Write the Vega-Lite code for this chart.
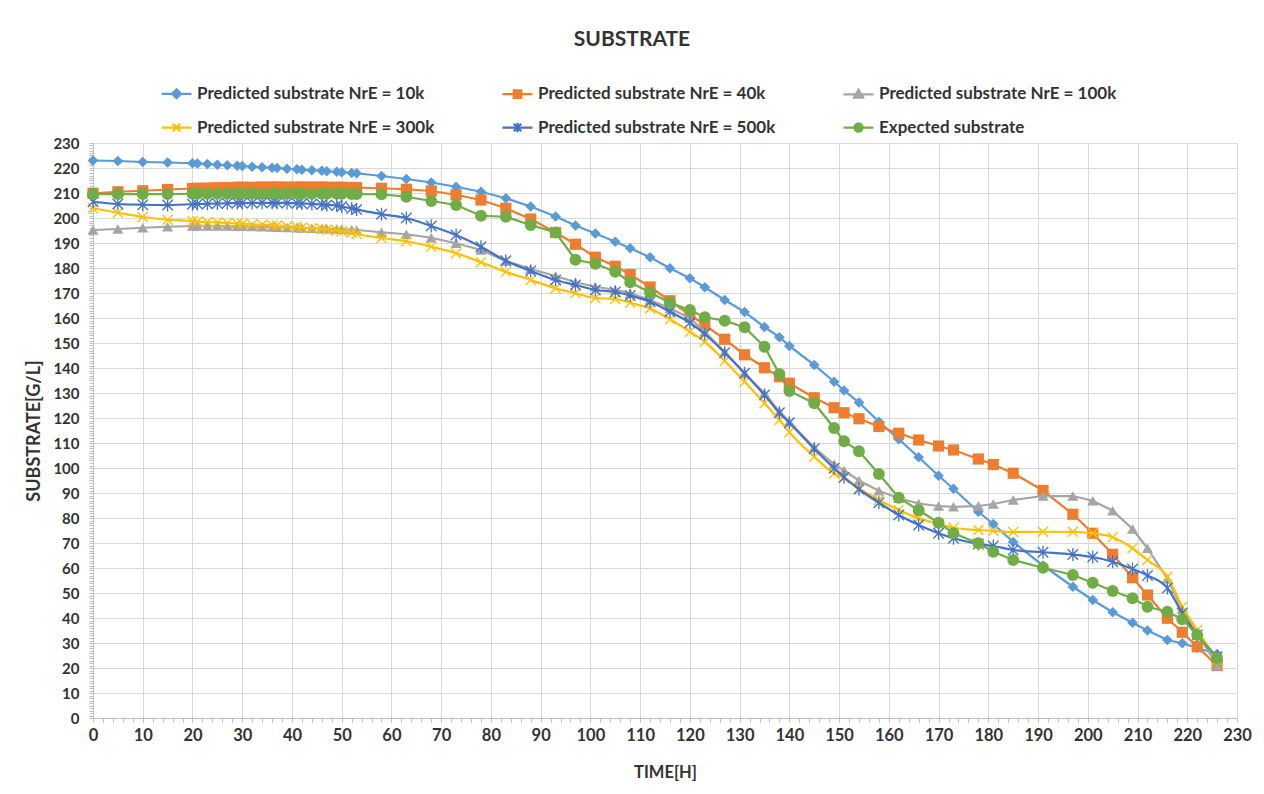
{
  "$schema": "https://vega.github.io/schema/vega-lite/v6.json",
  "width": 1144,
  "height": 575,
  "autosize": {"type": "none"},
  "padding": {"left": 93, "top": 143, "right": 27, "bottom": 76},
  "background": "white",
  "config": {
    "view": {"stroke": null},
    "font": "Lato",
    "axis": {"domainColor": "#bfbfbf", "tickColor": "#bfbfbf", "gridColor": "#d9d9d9", "gridWidth": 1, "labelFont": "Lato", "labelFontWeight": "bold", "labelColor": "#333333", "titleFont": "Lato", "titleFontWeight": "bold", "titleColor": "#333333", "labelOverlap": false, "labelBound": false, "labelFlush": false}
  },
  "title": {"text": "SUBSTRATE", "font": "Lato", "fontSize": 21, "fontWeight": "bold", "color": "#333333", "anchor": "middle", "frame": "group", "dx": -33, "offset": 16, "baseline": "middle"},
  "datasets": {
    "k10": [{"t":0,"v":223},{"t":5,"v":222.8},{"t":10,"v":222.4},{"t":15,"v":222.2},{"t":20,"v":221.9},{"t":21,"v":221.8},{"t":23,"v":221.6},{"t":25,"v":221.3},{"t":27,"v":221.1},{"t":29,"v":220.9},{"t":30,"v":220.8},{"t":32,"v":220.5},{"t":34,"v":220.3},{"t":36,"v":220.1},{"t":37,"v":220},{"t":39,"v":219.7},{"t":41,"v":219.5},{"t":42,"v":219.3},{"t":44,"v":219.1},{"t":46,"v":218.9},{"t":47,"v":218.7},{"t":49,"v":218.5},{"t":50,"v":218.3},{"t":52,"v":218},{"t":53,"v":217.9},{"t":58,"v":216.8},{"t":63,"v":215.6},{"t":68,"v":214.2},{"t":73,"v":212.5},{"t":78,"v":210.5},{"t":83,"v":207.9},{"t":88,"v":204.6},{"t":93,"v":200.6},{"t":97,"v":197},{"t":101,"v":193.8},{"t":105,"v":190.5},{"t":108,"v":187.9},{"t":112,"v":184.3},{"t":116,"v":179.9},{"t":120,"v":175.9},{"t":123,"v":172.3},{"t":127,"v":167.2},{"t":131,"v":162.4},{"t":135,"v":156.4},{"t":138,"v":152.3},{"t":140,"v":148.8},{"t":145,"v":141.2},{"t":149,"v":134.5},{"t":151,"v":131},{"t":154,"v":126.2},{"t":158,"v":118.5},{"t":162,"v":111.5},{"t":166,"v":104.3},{"t":170,"v":96.9},{"t":173,"v":91.7},{"t":178,"v":82.5},{"t":181,"v":77.6},{"t":185,"v":70.4},{"t":191,"v":61},{"t":197,"v":52.5},{"t":201,"v":47.2},{"t":205,"v":42.3},{"t":209,"v":38.1},{"t":212,"v":35},{"t":216,"v":31.2},{"t":219,"v":29.9},{"t":222,"v":28},{"t":226,"v":25.6}],
    "k40": [{"t":0,"v":209.9},{"t":5,"v":210.5},{"t":10,"v":210.9},{"t":15,"v":211.4},{"t":20,"v":211.8},{"t":21,"v":211.9},{"t":23,"v":212},{"t":25,"v":212.1},{"t":27,"v":212.2},{"t":29,"v":212.3},{"t":30,"v":212.3},{"t":32,"v":212.3},{"t":34,"v":212.4},{"t":36,"v":212.4},{"t":37,"v":212.4},{"t":39,"v":212.4},{"t":41,"v":212.4},{"t":42,"v":212.4},{"t":44,"v":212.4},{"t":46,"v":212.4},{"t":47,"v":212.3},{"t":49,"v":212.3},{"t":50,"v":212.3},{"t":52,"v":212.2},{"t":53,"v":212.2},{"t":58,"v":211.9},{"t":63,"v":211.5},{"t":68,"v":210.8},{"t":73,"v":209.3},{"t":78,"v":207.2},{"t":83,"v":203.9},{"t":88,"v":199.6},{"t":93,"v":194.2},{"t":97,"v":189.5},{"t":101,"v":184.3},{"t":105,"v":180.7},{"t":108,"v":177.4},{"t":112,"v":172.4},{"t":116,"v":166.9},{"t":120,"v":161.3},{"t":123,"v":157.2},{"t":127,"v":151.5},{"t":131,"v":145.3},{"t":135,"v":140.1},{"t":138,"v":136.5},{"t":140,"v":133.9},{"t":145,"v":128.1},{"t":149,"v":124.1},{"t":151,"v":122.1},{"t":154,"v":119.7},{"t":158,"v":116.6},{"t":162,"v":113.9},{"t":166,"v":111.2},{"t":170,"v":108.8},{"t":173,"v":107.2},{"t":178,"v":103.6},{"t":181,"v":101.4},{"t":185,"v":97.9},{"t":191,"v":91},{"t":197,"v":81.5},{"t":201,"v":73.9},{"t":205,"v":65.5},{"t":209,"v":56.1},{"t":212,"v":49.2},{"t":216,"v":39.9},{"t":219,"v":34.3},{"t":222,"v":28.5},{"t":226,"v":21}],
    "k100": [{"t":0,"v":195.2},{"t":5,"v":195.6},{"t":10,"v":196.1},{"t":15,"v":196.5},{"t":20,"v":196.8},{"t":21,"v":196.8},{"t":23,"v":196.8},{"t":25,"v":196.8},{"t":27,"v":196.8},{"t":29,"v":196.7},{"t":30,"v":196.7},{"t":32,"v":196.6},{"t":34,"v":196.5},{"t":36,"v":196.4},{"t":37,"v":196.3},{"t":39,"v":196.2},{"t":41,"v":196.1},{"t":42,"v":196},{"t":44,"v":195.9},{"t":46,"v":195.8},{"t":47,"v":195.7},{"t":49,"v":195.6},{"t":50,"v":195.5},{"t":52,"v":195.3},{"t":53,"v":195.2},{"t":58,"v":194.3},{"t":63,"v":193.5},{"t":68,"v":192.1},{"t":73,"v":189.9},{"t":78,"v":187.2},{"t":83,"v":182.8},{"t":88,"v":179.6},{"t":93,"v":176.8},{"t":97,"v":174.3},{"t":101,"v":172.5},{"t":105,"v":171.3},{"t":108,"v":169.9},{"t":112,"v":167.2},{"t":116,"v":163.9},{"t":120,"v":159.9},{"t":123,"v":154.5},{"t":127,"v":146.5},{"t":131,"v":137.9},{"t":135,"v":129.9},{"t":138,"v":122.5},{"t":140,"v":118.5},{"t":145,"v":108.2},{"t":149,"v":101.5},{"t":151,"v":99},{"t":154,"v":95},{"t":158,"v":90.9},{"t":162,"v":87.9},{"t":166,"v":85.8},{"t":170,"v":84.8},{"t":173,"v":84.5},{"t":178,"v":84.8},{"t":181,"v":85.6},{"t":185,"v":87.2},{"t":191,"v":88.8},{"t":197,"v":88.8},{"t":201,"v":86.9},{"t":205,"v":82.9},{"t":209,"v":75.6},{"t":212,"v":67.9},{"t":216,"v":55.7},{"t":219,"v":43.5},{"t":222,"v":34},{"t":226,"v":21}],
    "k300": [{"t":0,"v":203.9},{"t":5,"v":202.1},{"t":10,"v":200.4},{"t":15,"v":199.3},{"t":20,"v":198.8},{"t":21,"v":198.6},{"t":23,"v":198.4},{"t":25,"v":198.2},{"t":27,"v":198},{"t":29,"v":197.8},{"t":30,"v":197.7},{"t":32,"v":197.5},{"t":34,"v":197.3},{"t":36,"v":197.1},{"t":37,"v":197},{"t":39,"v":196.7},{"t":41,"v":196.4},{"t":42,"v":196.2},{"t":44,"v":195.9},{"t":46,"v":195.6},{"t":47,"v":195.4},{"t":49,"v":195},{"t":50,"v":194.7},{"t":52,"v":194.1},{"t":53,"v":193.6},{"t":58,"v":192},{"t":63,"v":190.7},{"t":68,"v":188.5},{"t":73,"v":185.9},{"t":78,"v":182.3},{"t":83,"v":178.5},{"t":88,"v":175.2},{"t":93,"v":171.9},{"t":97,"v":169.9},{"t":101,"v":168},{"t":105,"v":167.6},{"t":108,"v":166.1},{"t":112,"v":163.8},{"t":116,"v":159.5},{"t":120,"v":154.5},{"t":123,"v":150.5},{"t":127,"v":142.8},{"t":131,"v":134.5},{"t":135,"v":125.9},{"t":138,"v":119.2},{"t":140,"v":114.3},{"t":145,"v":104.5},{"t":149,"v":97.8},{"t":151,"v":96},{"t":154,"v":91.9},{"t":158,"v":87.2},{"t":162,"v":83.2},{"t":166,"v":79.9},{"t":170,"v":77.6},{"t":173,"v":76.1},{"t":178,"v":75.2},{"t":181,"v":74.8},{"t":185,"v":74.4},{"t":191,"v":74.5},{"t":197,"v":74.5},{"t":201,"v":73.9},{"t":205,"v":72.3},{"t":209,"v":67.9},{"t":212,"v":63.2},{"t":216,"v":56.5},{"t":219,"v":44.5},{"t":222,"v":35.2},{"t":226,"v":23.2}],
    "k500": [{"t":0,"v":206.5},{"t":5,"v":205.6},{"t":10,"v":205.3},{"t":15,"v":205.2},{"t":20,"v":205.5},{"t":21,"v":205.6},{"t":23,"v":205.7},{"t":25,"v":205.8},{"t":27,"v":205.9},{"t":29,"v":206},{"t":30,"v":206},{"t":32,"v":206},{"t":34,"v":206.1},{"t":36,"v":206.1},{"t":37,"v":206.1},{"t":39,"v":206},{"t":41,"v":205.9},{"t":42,"v":205.8},{"t":44,"v":205.6},{"t":46,"v":205.4},{"t":47,"v":205.2},{"t":49,"v":205},{"t":50,"v":204.6},{"t":52,"v":203.8},{"t":53,"v":203.4},{"t":58,"v":201.5},{"t":63,"v":200},{"t":68,"v":196.8},{"t":73,"v":193.2},{"t":78,"v":188.5},{"t":83,"v":182.9},{"t":88,"v":178.8},{"t":93,"v":175.2},{"t":97,"v":173.2},{"t":101,"v":171.2},{"t":105,"v":170.4},{"t":108,"v":169},{"t":112,"v":166.5},{"t":116,"v":162.5},{"t":120,"v":158.1},{"t":123,"v":153.6},{"t":127,"v":146.1},{"t":131,"v":137.9},{"t":135,"v":129.2},{"t":138,"v":122.1},{"t":140,"v":118.1},{"t":145,"v":107.7},{"t":149,"v":99.9},{"t":151,"v":96.3},{"t":154,"v":91.5},{"t":158,"v":86.1},{"t":162,"v":81.2},{"t":166,"v":77.2},{"t":170,"v":73.9},{"t":173,"v":71.9},{"t":178,"v":69.6},{"t":181,"v":68.8},{"t":185,"v":67.2},{"t":191,"v":66.3},{"t":197,"v":65.4},{"t":201,"v":64.4},{"t":205,"v":62.5},{"t":209,"v":59.6},{"t":212,"v":57},{"t":216,"v":52},{"t":219,"v":42},{"t":222,"v":33.2},{"t":226,"v":24.5}],
    "expd": [{"t":0,"v":209.6},{"t":5,"v":209.6},{"t":10,"v":209.6},{"t":15,"v":209.6},{"t":20,"v":209.7},{"t":21,"v":209.7},{"t":23,"v":209.7},{"t":25,"v":209.7},{"t":27,"v":209.7},{"t":29,"v":209.7},{"t":30,"v":209.7},{"t":32,"v":209.7},{"t":34,"v":209.7},{"t":36,"v":209.7},{"t":37,"v":209.7},{"t":39,"v":209.7},{"t":41,"v":209.7},{"t":42,"v":209.7},{"t":44,"v":209.7},{"t":46,"v":209.7},{"t":47,"v":209.7},{"t":49,"v":209.7},{"t":50,"v":209.7},{"t":52,"v":209.6},{"t":53,"v":209.6},{"t":58,"v":209.5},{"t":63,"v":208.5},{"t":68,"v":206.8},{"t":73,"v":205.2},{"t":78,"v":200.9},{"t":83,"v":200.5},{"t":88,"v":197.2},{"t":93,"v":194.2},{"t":97,"v":183.3},{"t":101,"v":181.7},{"t":105,"v":178.5},{"t":108,"v":174.3},{"t":112,"v":170.2},{"t":116,"v":166.1},{"t":120,"v":163.2},{"t":123,"v":160.3},{"t":127,"v":158.9},{"t":131,"v":156.3},{"t":135,"v":148.5},{"t":138,"v":137.6},{"t":140,"v":130.8},{"t":145,"v":125.9},{"t":149,"v":116},{"t":151,"v":110.7},{"t":154,"v":106.7},{"t":158,"v":97.6},{"t":162,"v":88.1},{"t":166,"v":83.1},{"t":170,"v":78.1},{"t":173,"v":73.9},{"t":178,"v":69.9},{"t":181,"v":66.5},{"t":185,"v":63.2},{"t":191,"v":60.1},{"t":197,"v":57.2},{"t":201,"v":54.1},{"t":205,"v":50.8},{"t":209,"v":47.9},{"t":212,"v":44.5},{"t":216,"v":42.5},{"t":219,"v":39.5},{"t":222,"v":33.2},{"t":226,"v":23.9}]
  },
  "encoding": {
    "x": {"field": "t", "type": "quantitative", "scale": {"domain": [0, 230], "nice": false, "zero": false},
      "axis": {"title": "TIME[H]", "tickCount": 115, "labelExpr": "datum.value % 10 === 0 ? datum.label : ''", "labelFontSize": 16.5, "labelPadding": 5, "tickSize": 4, "titleFontSize": 16.5, "titlePadding": 21,
        "gridOpacity": {"condition": {"test": "datum.value % 10 !== 0", "value": 0}, "value": 1}}},
    "y": {"field": "v", "type": "quantitative", "scale": {"domain": [0, 230], "nice": false},
      "axis": {"title": "SUBSTRATE[G/L]", "tickCount": 230, "labelExpr": "datum.value % 10 === 0 ? datum.label : ''", "labelFontSize": 15, "labelPadding": 10, "tickSize": 4, "titleFontSize": 18, "titlePadding": 9,
        "gridOpacity": {"condition": {"test": "datum.value % 10 !== 0", "value": 0}, "value": 1}}}
  },
  "layer": [
    {"data": {"name": "k10"}, "layer": [
      {"mark": {"type": "line", "strokeWidth": 2.25},
       "encoding": {"color": {"datum": "Predicted substrate NrE = 10k", "type": "nominal",
         "scale": {"domain": ["Predicted substrate NrE = 10k", "Predicted substrate NrE = 40k", "Predicted substrate NrE = 100k", "Predicted substrate NrE = 300k", "Predicted substrate NrE = 500k", "Expected substrate"], "range": ["#5B9BD5", "#ED7D31", "#A5A5A5", "#FFC000", "#4472C4", "#70AD47"]},
         "legend": {"orient": "none", "legendX": 67, "legendY": -66, "columns": 3, "direction": "horizontal", "title": null, "padding": 0,
           "labelFont": "Lato", "labelFontSize": 17, "labelFontWeight": "bold", "labelColor": "#333333", "labelLimit": 400, "labelOffset": 4,
           "symbolSize": 900, "symbolStrokeWidth": 2.25, "columnPadding": 63, "rowPadding": 8,
           "encode": {"symbols": {"update": {
             "shape": {"signal": "datum.value === 'Predicted substrate NrE = 10k' ? 'M-1,0H1M0,-0.3L0.3,0L0,0.3L-0.3,0Z' : datum.value === 'Predicted substrate NrE = 40k' ? 'M-1,0H1M-0.25,-0.25H0.25V0.25H-0.25Z' : datum.value === 'Predicted substrate NrE = 100k' ? 'M-1,0H1M0,-0.3L0.3,0.22L-0.3,0.22Z' : datum.value === 'Predicted substrate NrE = 300k' ? 'M-1,0H1M-0.25,-0.25L0.25,0.25M-0.25,0.25L0.25,-0.25' : datum.value === 'Predicted substrate NrE = 500k' ? 'M-1,0H1M-0.25,-0.25L0.25,0.25M-0.25,0.25L0.25,-0.25M0,-0.32L0,0.32' : 'M-1,0H1M-0.27,0A0.27,0.27,0,1,0,0.27,0A0.27,0.27,0,1,0,-0.27,0Z'"},
             "fill": {"signal": "scale('color', datum.value)"},
             "stroke": {"signal": "scale('color', datum.value)"},
             "strokeWidth": {"value": 2.25},
             "size": {"value": 900},
             "opacity": {"value": 1}
           }}}}}}},
      {"mark": {"type": "point", "shape": "diamond", "filled": true, "size": 115, "opacity": 1},
       "encoding": {"color": {"datum": "Predicted substrate NrE = 10k", "type": "nominal"}}}
    ]},
    {"data": {"name": "k40"}, "layer": [
      {"mark": {"type": "line", "strokeWidth": 2.25}, "encoding": {"color": {"datum": "Predicted substrate NrE = 40k", "type": "nominal"}}},
      {"mark": {"type": "point", "shape": "square", "filled": true, "size": 125, "opacity": 1}, "encoding": {"color": {"datum": "Predicted substrate NrE = 40k", "type": "nominal"}}}
    ]},
    {"data": {"name": "k100"}, "layer": [
      {"mark": {"type": "line", "strokeWidth": 2.25}, "encoding": {"color": {"datum": "Predicted substrate NrE = 100k", "type": "nominal"}}},
      {"mark": {"type": "point", "shape": "triangle-up", "filled": true, "size": 125, "opacity": 1}, "encoding": {"color": {"datum": "Predicted substrate NrE = 100k", "type": "nominal"}}}
    ]},
    {"data": {"name": "k300"}, "layer": [
      {"mark": {"type": "line", "strokeWidth": 2.25, "interpolate": "monotone"}, "encoding": {"color": {"datum": "Predicted substrate NrE = 300k", "type": "nominal"}}},
      {"mark": {"type": "point", "shape": "M-1,-1L1,1M-1,1L1,-1", "filled": false, "size": 100, "strokeWidth": 1.3, "opacity": 1}, "encoding": {"color": {"datum": "Predicted substrate NrE = 300k", "type": "nominal"}}}
    ]},
    {"data": {"name": "k500"}, "layer": [
      {"mark": {"type": "line", "strokeWidth": 2.25, "interpolate": "monotone"}, "encoding": {"color": {"datum": "Predicted substrate NrE = 500k", "type": "nominal"}}},
      {"mark": {"type": "point", "shape": "M-1,-1L1,1M-1,1L1,-1M0,-1.25L0,1.25", "filled": false, "size": 110, "strokeWidth": 1.3, "opacity": 1}, "encoding": {"color": {"datum": "Predicted substrate NrE = 500k", "type": "nominal"}}}
    ]},
    {"data": {"name": "expd"}, "layer": [
      {"mark": {"type": "line", "strokeWidth": 2.25}, "encoding": {"color": {"datum": "Expected substrate", "type": "nominal"}}},
      {"mark": {"type": "point", "shape": "circle", "filled": true, "size": 140, "opacity": 1}, "encoding": {"color": {"datum": "Expected substrate", "type": "nominal"}}}
    ]}
  ]
}
